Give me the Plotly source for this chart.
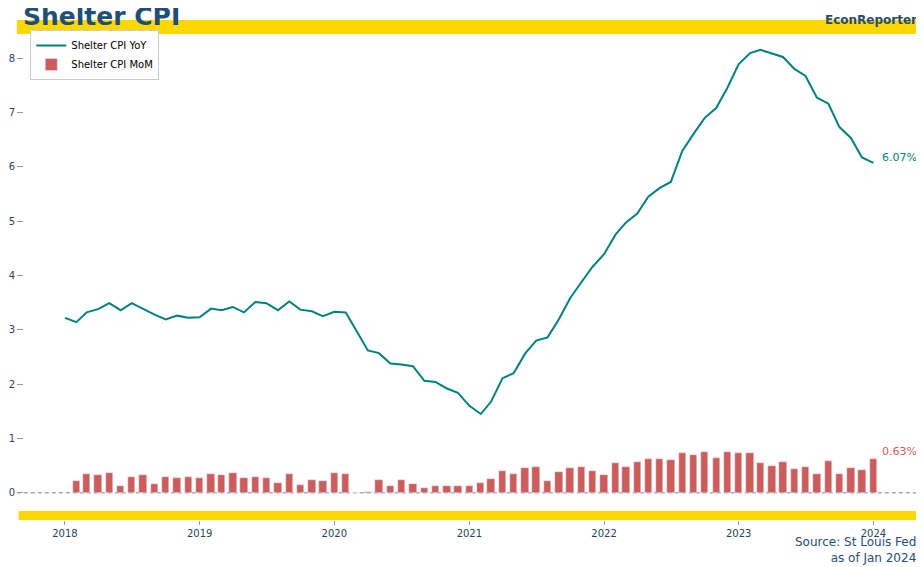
import plotly.graph_objects as go
import pandas as pd

# monthly shelter CPI readings
yoy_dates = pd.date_range("2018-01-01", "2024-01-01", freq="MS")
mom_dates = pd.date_range("2018-02-01", "2024-01-01", freq="MS")

shelter_yoy = [
    3.22, 3.14, 3.32, 3.38, 3.49, 3.36, 3.49, 3.38, 3.28, 3.19, 3.26, 3.22,
    3.23, 3.39, 3.36, 3.42, 3.32, 3.51, 3.49, 3.36, 3.52, 3.37, 3.34, 3.25,
    3.33, 3.32, 2.98, 2.62, 2.57, 2.38, 2.36, 2.33, 2.06, 2.04, 1.92, 1.84,
    1.60, 1.45, 1.68, 2.11, 2.20, 2.56, 2.80, 2.86, 3.20, 3.58, 3.88, 4.16,
    4.39, 4.75, 4.97, 5.14, 5.45, 5.61, 5.72, 6.29, 6.61, 6.90, 7.08, 7.45,
    7.89, 8.09, 8.15, 8.09, 8.02, 7.80, 7.67, 7.27, 7.16, 6.73, 6.53, 6.17,
    6.07,
]

shelter_mom = [
    0.21, 0.35, 0.32, 0.37, 0.13, 0.30, 0.32, 0.17, 0.30, 0.28, 0.30,
    0.28, 0.35, 0.32, 0.37, 0.28, 0.30, 0.28, 0.19, 0.35, 0.15, 0.24, 0.21,
    0.37, 0.34, 0.00, 0.01, 0.23, 0.12, 0.24, 0.17, 0.08, 0.13, 0.12, 0.13,
    0.13, 0.19, 0.26, 0.41, 0.34, 0.46, 0.48, 0.21, 0.39, 0.46, 0.48, 0.41,
    0.32, 0.54, 0.48, 0.56, 0.63, 0.63, 0.61, 0.74, 0.69, 0.76, 0.65, 0.76,
    0.74, 0.74, 0.54, 0.50, 0.56, 0.43, 0.48, 0.35, 0.58, 0.35, 0.46, 0.42,
    0.63,
]

TEAL = "#008080"
RED = "#CD5C5C"
NAVY = "#1F4E79"
GOLD = "#FFD700"
FONT = "DejaVu Sans"

fig = go.Figure()

fig.add_trace(go.Scatter(
    x=yoy_dates, y=shelter_yoy,
    mode="lines",
    name="Shelter CPI YoY",
    line=dict(color=TEAL, width=2),
))
fig.add_trace(go.Bar(
    x=mom_dates, y=shelter_mom,
    name="Shelter CPI MoM",
    marker=dict(color=RED),
    width=20 * 86400000,
))

# yellow bands top and bottom
fig.add_shape(type="rect", xref="paper", yref="paper",
              x0=-0.008, x1=1.02, y0=0.972, y1=1.0,
              fillcolor=GOLD, line_width=0, layer="below")
fig.add_shape(type="rect", xref="paper", yref="paper",
              x0=-0.006, x1=1.0, y0=0.0, y1=0.018,
              fillcolor=GOLD, line_width=0, layer="below")
# zero line
fig.add_shape(type="line", xref="paper", yref="y",
              x0=-0.008, x1=0.9955, y0=0, y1=0,
              line=dict(color="gray", width=1, dash="4px,3px"), layer="below")

# end labels
fig.add_annotation(x=yoy_dates[-1], y=shelter_yoy[-1],
                   text=f"{shelter_yoy[-1]:.2f}%", showarrow=False,
                   xanchor="left", xshift=7, yshift=5,
                   font=dict(color=TEAL, size=11, family=FONT))
fig.add_annotation(x=mom_dates[-1], y=shelter_mom[-1],
                   text=f"{shelter_mom[-1]:.2f}%", showarrow=False,
                   xanchor="left", xshift=7, yshift=7,
                   font=dict(color=RED, size=11, family=FONT))

fig.add_annotation(xref="paper", yref="paper", x=0, y=1.006,
                   text="<b>Shelter CPI</b>", showarrow=False,
                   xanchor="left", yanchor="middle", xshift=-3,
                   font=dict(color=NAVY, size=25, family=FONT))
fig.add_annotation(xref="paper", yref="paper", x=0.9944, y=1.0,
                   text="<b>EconReporter</b>", showarrow=False,
                   xanchor="right", yanchor="middle", xshift=3,
                   font=dict(color=NAVY, size=12, family=FONT))
fig.add_annotation(xref="paper", yref="paper", x=0.9955, y=-0.026,
                   text="Source: St Louis Fed<br>as of Jan 2024", showarrow=False,
                   xanchor="right", yanchor="top", align="right", xshift=1,
                   font=dict(color=NAVY, size=12, family=FONT))

fig.update_xaxes(
    type="date",
    range=["2017-09-12", "2024-05-09"],
    showgrid=False,
    zeroline=False,
    automargin=False,
    ticks="outside", ticklen=4, tickcolor="#999",
    dtick="M12", tickformat="%Y",
    tickfont=dict(size=10),
)
fig.update_yaxes(
    range=[-0.5, 8.7],
    showgrid=False,
    zeroline=False,
    automargin=False,
    ticks="outside", ticklen=6, tickcolor="#999",
    dtick=1,
    tickfont=dict(size=10),
)

fig.update_layout(
    width=924, height=567,
    margin=dict(l=16, r=11, t=12, b=55),
    plot_bgcolor="white",
    paper_bgcolor="white",
    font=dict(family=FONT, color="#2a3f5f"),
    bargap=0,
    legend=dict(
        x=0.007, y=0.98, xanchor="left", yanchor="top",
        bgcolor="white", bordercolor="#ccc", borderwidth=1,
        font=dict(size=10, color="black"),
        tracegroupgap=0,
    ),
)

fig.write_html("out.html")
